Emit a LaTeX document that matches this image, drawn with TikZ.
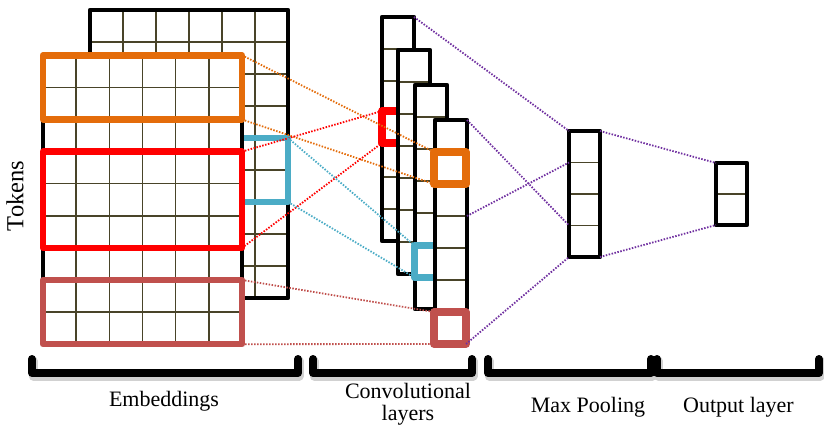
\documentclass[tikz,border=0pt]{standalone}
\usepackage{fontspec}
\setmainfont{Liberation Serif}
\usetikzlibrary{calc}
\definecolor{cOrange}{HTML}{E46C0A}
\definecolor{cRed}{HTML}{FF0000}
\definecolor{cBlue}{HTML}{4BACC6}
\definecolor{cBrown}{HTML}{C0504D}
\definecolor{cPurple}{HTML}{7030A0}
\definecolor{cGrid}{HTML}{494429}
\tikzset{
  cellfill/.style={rectangle, fill=white, draw=none, inner sep=0pt, outer sep=0pt},
  gridline/.style={draw=cGrid, line width=1.5pt},
  blackborder/.style={draw=black, line width=4.3pt, line join=round},
  hibox/.style={rectangle, draw=#1, line width=6.5pt, line join=round, inner sep=0pt, outer sep=0pt, anchor=north west},
  hisq/.style={rectangle, draw=#1, line width=7.5pt, line join=round, inner sep=0pt, outer sep=0pt, anchor=north west, minimum width=32, minimum height=32},
  dotline/.style={draw=#1, line width=1.8pt, dash pattern=on 1.5pt off 1.5pt},
  bracketline/.style={line width=8pt, line join=round, line cap=round},
  bracketshadow/.style={line width=9pt, line join=round, line cap=round, draw=black!18},
  lbl/.style={font=\fontsize{22}{26}\selectfont, inner sep=0pt, anchor=base},
}
\newcommand\gridmat[7]{%
  \node[cellfill, anchor=north west, minimum width={#4*#6}, minimum height={#5*#7}] (#1) at (#2,#3) {};
  \pgfmathtruncatemacro\gmc{#4-1}%
  \pgfmathtruncatemacro\gmr{#5-1}%
  \ifnum\gmc>0
    \foreach \i in {1,...,\gmc} \draw[gridline] ($(#1.north west)+(\i*#6,0)$) -- ($(#1.south west)+(\i*#6,0)$);
  \fi
  \foreach \j in {1,...,\gmr} \draw[gridline] ($(#1.north west)+(0,\j*#7)$) -- ($(#1.north east)+(0,\j*#7)$);
  \draw[blackborder] (#1.north west) rectangle (#1.south east);
}
\begin{document}
\begin{tikzpicture}[x=1pt,y=-1pt]
\useasboundingbox (0,0) rectangle (824,427);

% embeddings
\gridmat{back}{90}{10}{6}{9}{33}{32}
\node[hibox=cBlue, minimum width=198, minimum height=64] (bb) at (90,138) {};
\gridmat{front}{43}{55.3}{6}{9}{33.17}{32.1}
\node[hibox=cOrange, minimum width=199, minimum height=64.2] (ob) at (43,55.3) {};
\node[hibox=cRed, minimum width=199, minimum height=96.3] (rb) at (43,151.6) {};
\node[hibox=cBrown, minimum width=199, minimum height=64.2] (brb) at (43,280) {};

% convolutional layers
\gridmat{c1}{382}{17}{1}{7}{32}{32}
\node[hisq=cRed] (rsq) at (382,111) {};
\gridmat{c2}{398}{50}{1}{7}{32}{32}
\gridmat{c3}{415}{85}{1}{7}{32}{32}
\node[hisq=cBlue] (bsq) at (414.5,245.5) {};
\gridmat{c4}{435}{120}{1}{7}{32}{32}
\node[hisq=cOrange] (osq) at (434,152) {};
\node[hisq=cBrown] (brsq) at (434,312) {};

% max pooling and output
\gridmat{mp}{569}{131}{1}{4}{31}{31.5}
\gridmat{out}{716}{163}{1}{2}{31}{31}

% connectors
\draw[dotline=cOrange] (ob.north east) -- (osq.north west);
\draw[dotline=cOrange] (ob.south east) -- (osq.south west);
\draw[dotline=cRed] (rb.north east) -- (rsq.north west);
\draw[dotline=cRed] (rb.south east) -- (rsq.south west);
\draw[dotline=cBlue] (bb.north east) -- (bsq.north west);
\draw[dotline=cBlue] (bb.south east) -- (bsq.south west);
\draw[dotline=cBrown] (brb.north east) -- (brsq.north west);
\draw[dotline=cBrown] (brb.south east) -- (brsq.south west);

\coordinate (c4r3) at ($(c4.north east)+(0,96)$);
\coordinate (mp1) at ($(mp.north west)+(0,31.5)$);
\coordinate (mp3) at ($(mp.north west)+(0,94.5)$);
\draw[dotline=cPurple] (c1.north east) -- (mp.north west);
\draw[dotline=cPurple] (c4.north east) -- (mp3);
\draw[dotline=cPurple] (c4r3) -- (mp1);
\draw[dotline=cPurple] (brsq.south east) -- (mp.south west);
\draw[dotline=cPurple] (mp.north east) -- (out.north west);
\draw[dotline=cPurple] (mp.south east) -- (out.south west);

% brackets
\foreach \a/\b in {32/298, 313/472, 488/651, 657/819} {
  \draw[bracketshadow] (\a+1,361) -- (\a+1,376) -- (\b+1,376) -- (\b+1,361);
  \draw[bracketline] (\a,359) -- (\a,373) -- (\b,373) -- (\b,359);
}

% labels
\node[font=\fontsize{24.5}{28}\selectfont, rotate=90, inner sep=0pt] (tok) at (15,196) {Tokens};
\node[lbl] (emb) at (164,406) {Embeddings};
\node[lbl] (conv1) at (408,398) {Convolutional};
\node[lbl] (conv2) at (408,420) {layers};
\node[lbl] (maxp) at (588,412) {Max Pooling};
\node[lbl] (outl) at (738.5,412) {Output layer};
\end{tikzpicture}
\end{document}
